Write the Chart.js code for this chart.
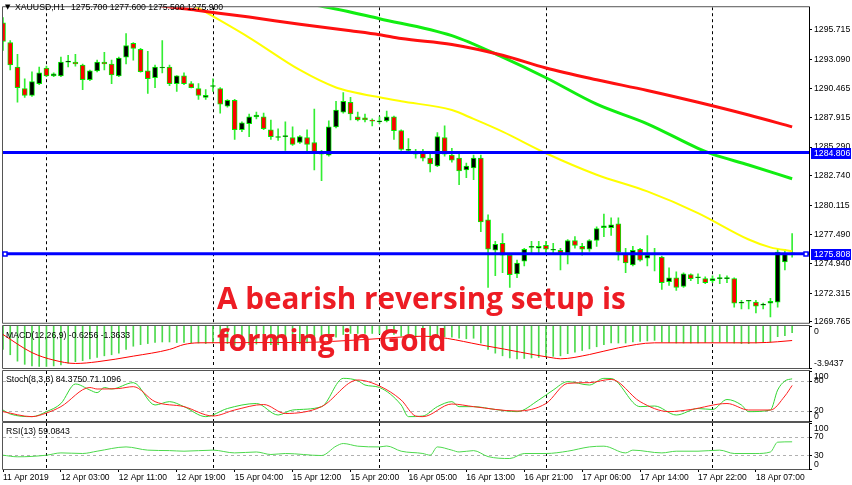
<!DOCTYPE html>
<html><head><meta charset="utf-8">
<script src="https://cdn.jsdelivr.net/npm/chart.js@4.4.1/dist/chart.umd.min.js"></script>
<style>
html,body{margin:0;padding:0;background:#fff;width:852px;height:485px;overflow:hidden;}
#wrap{position:relative;width:852px;height:485px;background:#fff;}
canvas{position:absolute;left:0;}
.lbl{position:absolute;font-family:"Liberation Sans",Arial,sans-serif;font-size:8.7px;line-height:10px;color:#000;white-space:pre;}
#note{position:absolute;left:217px;top:277px;font-family:"Open Sans",sans-serif;font-weight:700;font-size:29.7px;line-height:42px;color:#ed1c24;white-space:nowrap;}
</style></head><body>
<div id="wrap">
<canvas id="cMain" width="852" height="330" style="top:0px"></canvas>
<canvas id="cMacd" width="852" height="46" style="top:324px"></canvas>
<canvas id="cStoch" width="852" height="54" style="top:369px"></canvas>
<canvas id="cRsi" width="852" height="64" style="top:421px"></canvas>
<div class="lbl" style="left:5px;top:2px;font-family:'DejaVu Sans';font-size:7px;">▼</div>
<div class="lbl" style="left:15px;top:2px;">XAUUSD,H1</div>
<div class="lbl" id="ohlcLbl" style="left:71px;top:2px;"></div>
<div class="lbl" id="macdLbl" style="left:6px;top:330px;"></div>
<div class="lbl" id="stochLbl" style="left:6px;top:374px;"></div>
<div class="lbl" id="rsiLbl" style="left:6px;top:426px;"></div>
<div id="note">A bearish reversing setup is<br>forming in Gold</div>
</div>
<script>
// ---------------- DATA ----------------
const FIRST_BAR = -6; // bar index of first candle (12 Apr 01:00 = 0)
const opens = [1296.33,1294.58,1292.41,1290.49,1289.88,1290.93,
1292.32,1291.62,1291.62,1292.84,1292.84,1292.58,1291.27,1292.06,1292.84,1292.67,1291.62,1293.28,
1294.50,1293.97,1292.06,1291.45,1292.32,1292.41,1290.93,1291.62,1290.93,1290.49,1289.71,1290.67,
1290.49,1288.92,1289.45,1286.83,1287.36,1287.97,1287.97,1286.83,1286.14,1286.22,1286.14,1285.70,
1286.14,1285.70,1284.92,1284.57,1287.09,1288.40,1289.27,1287.97,1287.88,1287.62,1287.53,1287.62,
1287.97,1286.75,1285.00,1284.92,1284.92,1284.31,1283.61,1286.14,1284.57,1284.31,1283.26,1283.44,
1284.31,1278.82,1276.12,1276.73,1275.69,1274.03,1275.16,1276.38,1276.30,1276.56,1276.12,1276.12,
1275.86,1276.99,1276.47,1276.21,1276.99,1278.13,1278.13,1278.47,1275.86,1274.82,1276.21,1275.43,
1275.77,1275.51,1273.34,1273.68,1272.90,1273.95,1273.68,1273.60,1273.42,1273.60,1273.60,1273.60,
1271.42,1271.59,1271.51,1271.25,1271.42,1271.51,1275.08,1275.70];
const highs = [1296.80,1294.76,1293.54,1291.36,1291.97,1292.41,
1292.49,1291.88,1293.28,1293.45,1293.54,1292.67,1292.14,1293.02,1293.71,1293.02,1293.28,1295.37,
1294.58,1294.06,1293.80,1292.58,1294.76,1292.58,1291.65,1291.88,1291.10,1290.93,1290.40,1291.36,
1290.58,1289.50,1289.53,1287.53,1288.23,1288.40,1288.31,1287.70,1286.92,1287.53,1287.09,1286.31,
1286.83,1288.66,1285.00,1287.62,1289.36,1290.14,1289.71,1288.40,1288.23,1287.79,1287.97,1288.49,
1288.05,1286.83,1286.05,1285.09,1285.09,1284.74,1286.57,1287.18,1285.18,1284.74,1283.87,1284.57,
1284.57,1279.26,1276.91,1277.60,1275.86,1275.25,1276.30,1276.91,1276.91,1276.91,1276.73,1276.30,
1277.08,1277.34,1276.73,1277.08,1278.21,1279.34,1279.00,1279.00,1276.30,1276.47,1276.30,1277.43,
1276.30,1275.60,1274.55,1274.21,1274.12,1274.03,1274.03,1273.77,1273.86,1273.95,1273.86,1273.68,
1271.68,1271.68,1271.68,1271.42,1271.86,1276.21,1276.21,1277.60];
const lows = [1293.89,1292.14,1289.27,1289.71,1289.79,1290.84,
1291.54,1291.54,1291.54,1292.41,1292.49,1290.40,1291.19,1291.97,1292.14,1290.93,1291.54,1292.67,
1293.02,1291.95,1290.05,1290.58,1291.88,1290.75,1290.23,1290.84,1290.55,1289.53,1289.53,1290.23,
1288.31,1288.84,1285.96,1286.66,1286.22,1287.79,1286.83,1285.96,1285.88,1285.00,1285.44,1285.61,
1284.92,1283.26,1282.30,1284.48,1287.00,1288.31,1287.70,1287.62,1287.53,1287.18,1287.36,1287.53,
1285.96,1285.00,1284.92,1284.31,1284.05,1283.09,1283.55,1284.48,1283.96,1281.96,1282.57,1282.39,
1277.78,1272.81,1273.86,1274.12,1272.81,1273.68,1274.73,1275.77,1275.77,1275.86,1275.77,1274.38,
1274.90,1276.30,1275.69,1276.03,1276.47,1277.34,1277.43,1275.25,1274.12,1274.73,1275.16,1274.73,
1274.29,1272.64,1272.99,1272.55,1272.81,1273.42,1273.16,1273.16,1273.25,1273.16,1273.25,1271.07,
1270.90,1270.90,1270.55,1270.90,1270.20,1271.07,1274.38,1275.50];
const closes = [1294.67,1292.58,1290.58,1289.88,1291.10,1291.88,
1291.62,1291.80,1292.84,1292.86,1292.67,1291.27,1292.06,1292.84,1292.67,1291.71,1293.19,1294.32,
1294.06,1292.00,1291.36,1292.41,1292.36,1290.93,1291.62,1290.93,1290.58,1289.88,1289.88,1290.70,
1289.10,1289.45,1286.83,1287.44,1287.97,1288.14,1286.92,1286.22,1286.16,1286.25,1285.53,1286.22,
1285.53,1284.74,1284.66,1287.09,1288.58,1289.36,1288.23,1287.70,1287.70,1287.60,1287.55,1287.97,
1286.75,1285.09,1285.02,1284.66,1284.31,1283.79,1286.22,1284.66,1284.13,1283.18,1283.61,1284.31,
1278.65,1276.21,1276.65,1275.69,1273.95,1274.99,1276.21,1276.40,1276.47,1276.21,1276.14,1275.86,
1276.99,1276.56,1276.21,1276.99,1278.04,1278.30,1278.39,1275.95,1274.99,1276.12,1275.25,1275.69,
1275.80,1273.25,1273.68,1272.81,1274.03,1273.60,1273.70,1273.25,1273.60,1273.62,1273.63,1271.42,
1271.44,1271.60,1271.16,1271.26,1271.59,1275.95,1275.77,1275.90];

// moving averages (read at bar indices)
const maRedX = [10,16,21,28,35,42,46,49,56,63,69,76,83,90,97,103];
const maRedV = [1298.24,1297.83,1297.42,1296.84,1296.21,1295.63,1295.28,1294.93,1294.41,1293.45,1292.32,1291.27,1290.32,1289.27,1288.14,1287.09];
const maGreenX = [34,38,46,56,63,69,76,83,90,92,97,103];
const maGreenV = [1298.15,1297.81,1296.70,1295.19,1293.28,1291.45,1289.10,1287.36,1285.18,1284.66,1283.70,1282.48];
const maYellowX = [20,21,28,35,40,42,46,49,56,59,63,69,76,83,90,97,100,103];
const maYellowV = [1297.98,1297.63,1295.02,1292.14,1290.58,1290.23,1289.71,1289.36,1288.58,1287.79,1286.66,1284.74,1282.83,1281.35,1279.43,1277.08,1276.38,1276.04];

const hLines = [1284.806, 1275.808];
const priceTicks = [1295.715,1293.090,1290.465,1287.915,1285.290,1282.740,1280.115,1277.490,1274.940,1272.315,1269.765];
const ohlcText = ['1275.700','1277.600','1275.500','1275.900'];

// MACD(12,26,9)
const macdHist = [-2.2,-2.7,-3.3,-3.6,-3.75,-3.8,
-3.8,-3.75,-3.65,-3.5,-3.35,-3.25,-3.1,-2.95,-2.8,-2.7,-2.55,-2.2,
-1.9,-1.75,-1.65,-1.55,-1.5,-1.5,-1.55,-1.55,-1.6,
-1.6,-1.65,-1.6,-1.6,-1.65,-1.8,-1.8,-1.75,-1.7,-1.7,-1.75,-1.75,-1.75,-1.7,-1.65,-1.6,-1.55,-1.6,
-1.35,-1.05,-0.8,-0.7,-0.7,-0.7,-0.7,-0.72,-0.72,-0.8,-0.95,-1.0,-1.05,-1.1,
-1.2,-1.0,-1.0,-1.05,-1.15,-1.2,-1.15,
-1.6,-2.2,-2.55,-2.8,-3.0,-3.1,-3.05,-3.0,-2.95,-2.9,-2.85,
-2.8,-2.6,-2.45,-2.3,-2.15,-1.95,-1.75,-1.6,-1.6,-1.6,-1.5,-1.45,-1.4,-1.35,
-1.5,-1.55,-1.6,-1.6,-1.6,-1.6,-1.55,-1.55,-1.5,-1.5,-1.6,-1.65,-1.65,-1.6,-1.5,-1.5,
-1.0,-0.9,-0.6256];
const macdSigX = [-6,-2,1,4,7,12,17,19,21,35,44,52,61,70,71,75,79,84,98,101,103];
const macdSigV = [-0.8,-2.5,-3.2,-3.52,-3.36,-2.83,-2.2,-1.74,-1.58,-1.55,-1.27,-0.96,-1.9,-3.0,-3.08,-2.68,-2.05,-1.58,-1.58,-1.48,-1.3633];
const macdMin = -3.9437, macdMax = 0;
const macdText = 'MACD(12,26,9) -0.6256 -1.3633';

// Stochastic(8,3,3)
const stochKX = [-6,-5,-2,0,2,4,6,7,8,9,12,15,17,19,22,25,29,32,34,38,41,43,44,46,49,50,52,54,56,57,59,62,65,68,70,72,75,77,78,82,84,87,90,92,94,96,97,100,101,102,103];
const stochKV = [22,14,8.7,18.7,35,74,62,56.7,67,64,76.7,32,38.7,28.7,8.7,25,35,12,22,28.7,85.3,80.7,72,67,32,8.7,10,28.7,38.7,28.7,28.7,23,18.7,42,62,78.7,72,85.3,85,28.7,30,12,25,23,43,32,18.7,22,62,80,84.375];
const stochDX = [-6,-2,0,2,6,7,10,12,15,19,23,26,30,33,38,43,46,49,51,52,56,59,65,69,72,75,78,82,86,89,94,97,100,102,103];
const stochDV = [18.7,8.7,16,28.7,67,64,65,68.7,38.7,28.7,10,22,33,15,28.7,82,70,42,10,8.7,34,28.7,20,35,75.3,76.7,83.3,38.7,18.7,23,35,22,22,50,71.1096];
const stochLevels = [80, 20];
const stochText = 'Stoch(8,3,3) 84.3750 71.1096';

// RSI(13)
const rsiX = [-6,-4,0,2,5,7,11,14,17,19,23,26,29,31,33,38,40,41,43,46,47,49,52,53,54,56,57,59,61,64,66,69,72,75,77,80,81,85,87,90,93,95,98,100,101,103];
const rsiV = [30,26.5,30,35,33.7,38.7,48,41,40,38.7,41,35,37,31.5,33.7,29.3,49.6,55.4,49.6,48,50,38.7,33.7,30,48,41,37,40,27,22.8,33.7,33.7,38.7,48,49.6,35,41,35,38.7,38.7,41,33.7,33.7,37,58.3,59.0843];
const rsiLevels = [70, 30];
const rsiText = 'RSI(13) 59.0843';

// time axis
const dateIdx = [-6,2,10,18,26,34,42,50,58,66,74,82,90,98];
const dateLabels = ['11 Apr 2019','12 Apr 03:00','12 Apr 11:00','12 Apr 19:00','15 Apr 04:00','15 Apr 12:00','15 Apr 20:00','16 Apr 05:00','16 Apr 13:00','16 Apr 21:00','17 Apr 06:00','17 Apr 14:00','17 Apr 22:00','18 Apr 07:00'];
const daySeps = [0,23,46,69,92];

// ---------------- RENDER ----------------
document.getElementById('ohlcLbl').textContent = ohlcText.join(' ');
document.getElementById('macdLbl').textContent = macdText;
document.getElementById('stochLbl').textContent = stochText;
document.getElementById('rsiLbl').textContent = rsiText;

Chart.defaults.animation = false;
Chart.defaults.font.family = '"Liberation Sans", Arial, sans-serif';
Chart.defaults.plugins.legend.display = false;
Chart.defaults.plugins.tooltip.enabled = false;
Chart.defaults.events = [];

const X_MIN = -6, X_MAX = 105.33;
const FONT_SM = 8.7;
const barX = opens.map((_, k) => FIRST_BAR + k);
const pts = (xs, vs) => xs.map((x, i) => ({x, y: vs[i]}));

const panelPlugin = {
  id: 'panel',
  beforeDatasetsDraw(chart, args, opts) {
    const {ctx, chartArea: a, scales} = chart;
    ctx.save();
    ctx.beginPath(); ctx.rect(a.left, a.top, a.right - a.left, a.bottom - a.top); ctx.clip();
    ctx.lineWidth = 1;
    (opts.levels || []).forEach(v => {
      const y = Math.round(scales.y.getPixelForValue(v)) + 0.5;
      ctx.strokeStyle = '#b0b0b0'; ctx.setLineDash([3, 3]);
      ctx.beginPath(); ctx.moveTo(a.left, y); ctx.lineTo(a.right, y); ctx.stroke();
    });
    ctx.strokeStyle = '#000'; ctx.setLineDash([3, 3]);
    daySeps.forEach(i => {
      const x = Math.round(scales.x.getPixelForValue(i)) + 0.5;
      ctx.beginPath(); ctx.moveTo(x, a.top); ctx.lineTo(x, a.bottom); ctx.stroke();
    });
    ctx.restore();
  },
  afterDraw(chart, args, opts) {
    const {ctx, chartArea: a, scales} = chart;
    ctx.save();
    ctx.setLineDash([]); ctx.lineWidth = 1;
    ctx.strokeStyle = '#555';
    ctx.beginPath();
    ctx.moveTo(a.left - 0.5, a.top - 0.5); ctx.lineTo(a.right + 0.5, a.top - 0.5);
    ctx.moveTo(a.left - 0.5, a.bottom + 0.5); ctx.lineTo(a.right + 0.5, a.bottom + 0.5);
    ctx.moveTo(a.left - 0.5, a.top - 0.5); ctx.lineTo(a.left - 0.5, a.bottom + 0.5);
    ctx.stroke();
    ctx.strokeStyle = '#000';
    ctx.beginPath(); ctx.moveTo(a.right + 0.5, a.top - 0.5); ctx.lineTo(a.right + 0.5, a.bottom + 0.5); ctx.stroke();
    ctx.font = FONT_SM + 'px "Liberation Sans", Arial, sans-serif';
    ctx.fillStyle = '#000'; ctx.textAlign = 'left';
    (opts.rightLabels || []).forEach(l => {
      const y = scales.y.getPixelForValue(l.v);
      const yy = Math.round(y) + 0.5;
      ctx.beginPath(); ctx.moveTo(a.right, yy); ctx.lineTo(a.right + 3, yy); ctx.stroke();
      ctx.textBaseline = l.a;
      ctx.fillText(l.t, a.right + 5, l.a === 'top' ? y + 1 : y);
    });
    if (opts.priceBoxes) {
      hLines.forEach((v, i) => {
        const y = scales.y.getPixelForValue(v);
        ctx.fillStyle = '#0000ff';
        ctx.fillRect(a.right + 2, Math.round(y) - 5, 40, 11);
        ctx.fillStyle = '#fff'; ctx.textBaseline = 'middle';
        ctx.fillText(v.toFixed(3), a.right + 5, Math.round(y) + 0.5);
        if (i === hLines.length - 1) {
          [a.left + 2, a.right - 3].forEach(cx => {
            ctx.fillStyle = '#fff'; ctx.strokeStyle = '#0000ff'; ctx.lineWidth = 1.5;
            ctx.fillRect(cx - 2, Math.round(y) - 2, 4, 4);
            ctx.strokeRect(cx - 2, Math.round(y) - 2, 4, 4);
          });
        }
      });
    }
    ctx.restore();
  }
};

function hiddenX() {
  return { type: 'linear', min: X_MIN, max: X_MAX, display: false, offset: false, bounds: 'ticks' };
}
function dateX() {
  return {
    type: 'linear', min: X_MIN, max: X_MAX, display: true, offset: false,
    afterBuildTicks: s => { s.ticks = dateIdx.map(v => ({value: v})); },
    afterFit: s => { s.height = 16; },
    ticks: { callback: (v, i) => dateLabels[i], align: 'start', maxRotation: 0, minRotation: 0, autoSkip: false,
             font: {size: 8.5}, color: '#000', padding: 1 },
    grid: { drawOnChartArea: false, drawTicks: true, tickLength: 3, color: '#000', offset: false },
    border: { display: false }
  };
}

// main price chart
new Chart(document.getElementById('cMain'), {
  type: 'bar',
  data: {
    datasets: [
      { type: 'line', data: [{x: X_MIN, y: hLines[0]}, {x: X_MAX, y: hLines[0]}], borderColor: '#0000ff', borderWidth: 3, pointRadius: 0, order: 1 },
      { type: 'line', data: [{x: X_MIN, y: hLines[1]}, {x: X_MAX, y: hLines[1]}], borderColor: '#0000ff', borderWidth: 3, pointRadius: 0, order: 1 },
      { type: 'line', data: pts(maRedX, maRedV), borderColor: '#ff1010', borderWidth: 3, pointRadius: 0, cubicInterpolationMode: 'monotone', order: 2 },
      { type: 'line', data: pts(maGreenX, maGreenV), borderColor: '#11ee11', borderWidth: 3, pointRadius: 0, cubicInterpolationMode: 'monotone', order: 2 },
      { type: 'line', data: pts(maYellowX, maYellowV), borderColor: '#ffff00', borderWidth: 2, pointRadius: 0, cubicInterpolationMode: 'monotone', order: 2 },
      { type: 'bar', data: barX.map((x, k) => ({x, y: [opens[k], closes[k]]})),
        backgroundColor: barX.map((_, k) => closes[k] >= opens[k] ? '#000000' : '#ff0000'),
        borderColor: '#00ee00', borderWidth: 1, borderSkipped: false, barThickness: 5, minBarLength: 1, grouped: false, order: 3 },
      { type: 'bar', data: barX.map((x, k) => ({x, y: [lows[k], highs[k]]})),
        backgroundColor: '#33ee33', barThickness: 1, grouped: false, order: 4 }
    ]
  },
  options: {
    responsive: false,
    layout: { padding: {left: 3, right: 0, top: 1, bottom: 7} },
    scales: {
      x: hiddenX(),
      y: { position: 'right', min: 1269.678, max: 1297.718,
           afterFit: s => { s.width = 43; },
           afterBuildTicks: s => { s.ticks = priceTicks.map(v => ({value: v})); },
           ticks: { callback: v => Number(v).toFixed(3), font: {size: FONT_SM}, color: '#000', padding: 2 },
           grid: { drawOnChartArea: false, drawTicks: true, tickLength: 3, color: '#000' },
           border: { display: false } }
    },
    plugins: { panel: { priceBoxes: true } }
  },
  plugins: [panelPlugin]
});

// MACD
new Chart(document.getElementById('cMacd'), {
  type: 'bar',
  data: { datasets: [
    { type: 'line', data: pts(macdSigX, macdSigV), borderColor: '#ff0000', borderWidth: 1, pointRadius: 0, cubicInterpolationMode: 'monotone', order: 1 },
    { type: 'bar', data: barX.map((x, k) => ({x, y: macdHist[k]})), backgroundColor: '#4cd94c', barThickness: 1, grouped: false, order: 2 }
  ]},
  options: {
    responsive: false,
    layout: { padding: {left: 3, right: 43, top: 2, bottom: 2} },
    scales: {
      x: hiddenX(),
      y: { min: macdMin, max: macdMax, display: false }
    },
    plugins: { panel: { rightLabels: [ {v: macdMax, t: '0', a: 'top'}, {v: macdMin, t: String(macdMin), a: 'bottom'} ] } }
  },
  plugins: [panelPlugin]
});

// Stochastic
new Chart(document.getElementById('cStoch'), {
  type: 'line',
  data: { datasets: [
    { data: pts(stochDX, stochDV), borderColor: '#ff2020', borderWidth: 1, pointRadius: 0, cubicInterpolationMode: 'monotone' },
    { data: pts(stochKX, stochKV), borderColor: '#33d633', borderWidth: 1, pointRadius: 0, cubicInterpolationMode: 'monotone' }
  ]},
  options: {
    responsive: false,
    layout: { padding: {left: 3, right: 43, top: 2, bottom: 2} },
    scales: {
      x: hiddenX(),
      y: { min: 0, max: 100, display: false }
    },
    plugins: { panel: { levels: stochLevels, rightLabels: [
      {v: 100, t: '100', a: 'top'}, {v: stochLevels[0], t: String(stochLevels[0]), a: 'middle'},
      {v: stochLevels[1], t: String(stochLevels[1]), a: 'middle'}, {v: 0, t: '0', a: 'bottom'} ] } }
  },
  plugins: [panelPlugin]
});

// RSI with time axis
new Chart(document.getElementById('cRsi'), {
  type: 'line',
  data: { datasets: [
    { data: pts(rsiX, rsiV), borderColor: '#4cd94c', borderWidth: 1, pointRadius: 0, cubicInterpolationMode: 'monotone' }
  ]},
  options: {
    responsive: false,
    layout: { padding: {left: 3, right: 43, top: 2, bottom: 0} },
    scales: {
      x: dateX(),
      y: { min: 0, max: 100, display: false }
    },
    plugins: { panel: { levels: rsiLevels, rightLabels: [
      {v: 100, t: '100', a: 'top'}, {v: rsiLevels[0], t: String(rsiLevels[0]), a: 'middle'},
      {v: rsiLevels[1], t: String(rsiLevels[1]), a: 'middle'}, {v: 0, t: '0', a: 'bottom'} ] } }
  },
  plugins: [panelPlugin]
});
</script>
</body></html>
